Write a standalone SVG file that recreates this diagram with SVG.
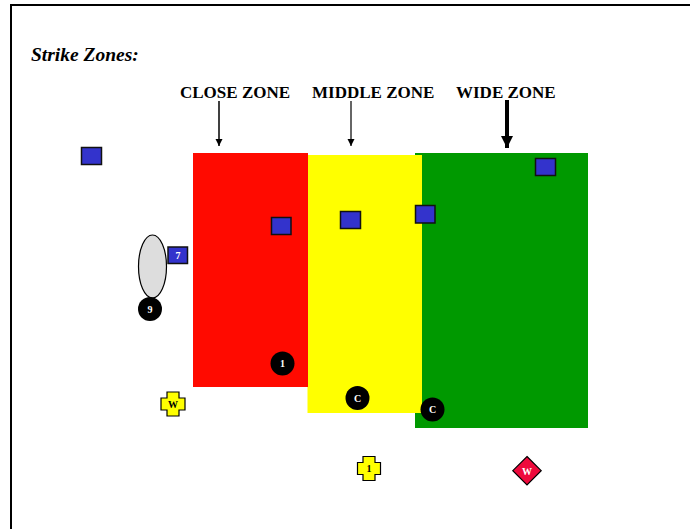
<svg xmlns="http://www.w3.org/2000/svg" width="690" height="529" viewBox="0 0 690 529">
<style>
.sq{fill:#3333cc;stroke:#111;stroke-width:1.5}
.pl{fill:#000}
.pt{fill:#fff;font-family:"Liberation Serif",serif;font-weight:bold;font-size:10px;text-anchor:middle}
.bt{fill:#000;font-family:"Liberation Serif",serif;font-weight:bold;font-size:10px;text-anchor:middle}
.hd{font-family:"Liberation Serif",serif;font-weight:bold;font-size:17px;fill:#000}
.cr{fill:#ffff00;stroke:#000;stroke-width:1.2}
</style>
<defs>
<marker id="ah" viewBox="0 0 10 10" refX="10" refY="5" markerWidth="5" markerHeight="5" markerUnits="strokeWidth" orient="auto"><path d="M0,0 L10,5 L0,10 z" fill="#000"/></marker>
<marker id="ahb" viewBox="0 0 10 10" refX="10" refY="5" markerWidth="3" markerHeight="3.2" markerUnits="strokeWidth" orient="auto"><path d="M0,0 L10,5 L0,10 z" fill="#000"/></marker>
</defs>
<rect width="690" height="529" fill="#fff"/>
<path d="M11,529 V5 H690" fill="none" stroke="#000" stroke-width="2"/>
<text x="31" y="61" font-family="Liberation Serif,serif" font-weight="bold" font-style="italic" font-size="19.5">Strike Zones:</text>
<text class="hd" x="180" y="98">CLOSE ZONE</text>
<text class="hd" x="312" y="98">MIDDLE ZONE</text>
<text class="hd" x="456" y="98">WIDE ZONE</text>
<g id="zones">
<rect id="green-zone" x="415" y="153" width="173" height="275" fill="#009900"/>
<rect id="yellow-zone" x="307.5" y="155" width="114.5" height="258" fill="#ffff00"/>
<rect id="red-zone" x="193" y="153" width="115" height="234" fill="#ff0a00"/>
</g>
<g id="connectors">
<line x1="219" y1="101" x2="219" y2="146" stroke="#000" stroke-width="1.5" marker-end="url(#ah)"/>
<line x1="351" y1="101" x2="351" y2="146" stroke="#333" stroke-width="1.5" marker-end="url(#ah)"/>
<line x1="507" y1="100" x2="507" y2="148" stroke="#000" stroke-width="4" marker-end="url(#ahb)"/>
</g>
<g id="sq1"><rect class="sq" x="81.5" y="147.5" width="20" height="17"/></g>
<g id="sq2"><rect class="sq" x="271.5" y="217.5" width="19.5" height="17"/></g>
<g id="sq3"><rect class="sq" x="340.5" y="211.5" width="20" height="17"/></g>
<g id="sq4"><rect class="sq" x="415.5" y="205.5" width="19.5" height="17.5"/></g>
<g id="sq5"><rect class="sq" x="535.5" y="158.5" width="20" height="17"/></g>
<g id="ellipse"><ellipse cx="152.5" cy="266.5" rx="14" ry="31.5" fill="#dddddd" stroke="#000" stroke-width="1.2"/></g>
<g id="sq7"><rect class="sq" x="168" y="247" width="19.5" height="16.5"/><text class="pt" x="178" y="259">7</text></g>
<g id="p9"><circle class="pl" cx="150" cy="309" r="12"/><text class="pt" x="150" y="312.5">9</text></g>
<g id="p1"><circle class="pl" cx="282.5" cy="363.5" r="12"/><text class="pt" x="282.5" y="367">1</text></g>
<g id="pC1"><circle class="pl" cx="357.5" cy="398" r="12"/><text class="pt" x="357.5" y="401.5">C</text></g>
<g id="pC2"><circle class="pl" cx="432.5" cy="409.5" r="12"/><text class="pt" x="432.5" y="413">C</text></g>
<g id="crossW"><path class="cr" d="M167,392 h12 v6 h6 v12 h-6 v6 h-12 v-6 h-6 v-12 h6 z"/><text class="bt" x="173" y="407.5">W</text></g>
<g id="cross1"><path class="cr" d="M363,456.5 h12 v6 h5.5 v12 h-5.5 v6 h-12 v-6 h-5.5 v-12 h5.5 z"/><text class="bt" x="369" y="472">1</text></g>
<g id="diamondW"><path d="M527,456.5 L541.2,470.7 L527,484.9 L512.8,470.7 z" fill="#ee0a3c" stroke="#000" stroke-width="1.2"/><text class="pt" x="527" y="474.5">W</text></g>
</svg>
